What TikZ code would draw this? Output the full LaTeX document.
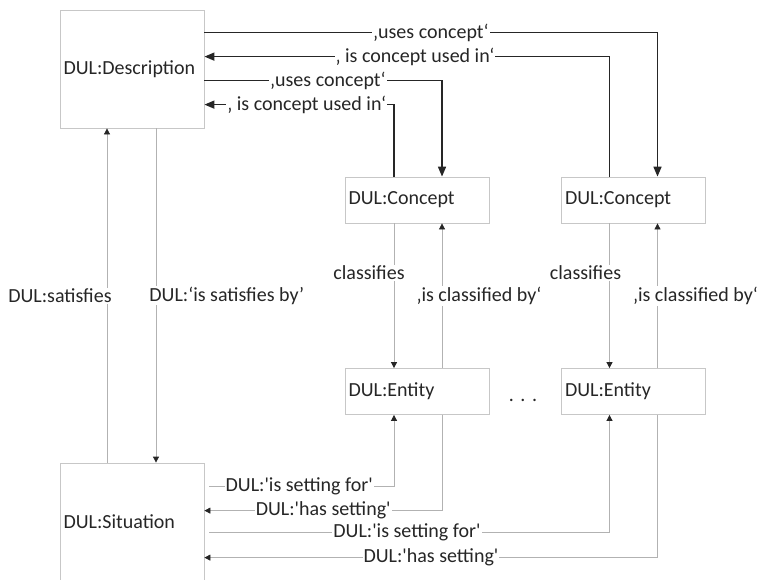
\documentclass[tikz,border=0pt]{standalone}
\usepackage{fontspec}
\setmainfont{Carlito}
\usetikzlibrary{arrows.meta}
\newcommand{\sq}{\textquotesingle}

\begin{document}
\begin{tikzpicture}[x=1pt, y=-1pt, font=\fontsize{20}{24}\selectfont, text=black!85,
	box/.style={draw=black!22, line width=0.8pt, text width=137pt, inner sep=3.5pt, align=left, minimum height=#1},
	box/.default=46pt,
	uses/.style={line width=1.6pt, black!85, -{Triangle[length=10pt,width=8pt]}},
	rel/.style={line width=0.8pt, black!30, -{Triangle[length=6pt,width=6pt,color=black!85]}},
	lbl/.style={fill=white, inner sep=1pt, text=black!85}]
	\useasboundingbox (0,0) rectangle (759,579);
	\clip (0,0) rectangle (759,579);
	\node (D) [box=118pt] at (132,69) {DUL:Description};
	\node (S) [box=118pt] at (132,522) {DUL:Situation};
	\node (C1) [box] at (417,200) {DUL:Concept};
	\node (C2) [box] at (633.5,200) {DUL:Concept};
	\node (E1) [box] at (417,391.5) {DUL:Entity};
	\node (E2) [box] at (633.5,391.5) {DUL:Entity};
	\node (dots) at (523,400) {.\,\,.\,\,.};
	\draw[uses] ([yshift=-23pt]D.north east) -| node[lbl, pos=.25] {‚uses concept‘} ([xshift=24pt]C2.north);
	\draw[uses] ([xshift=-24pt]C2.north) |- node[lbl, pos=.74] {‚ is concept used in‘} ([yshift=-47pt]D.north east);
	\draw[uses] ([yshift=-71pt]D.north east) -| node[lbl, pos=.26] {‚uses concept‘} ([xshift=25pt]C1.north);
	\draw[uses] ([xshift=-23pt]C1.north) |- node[lbl, pos=.73] {‚ is concept used in‘} ([yshift=-95pt]D.north east);
	\draw[rel] ([xshift=-25pt]S.north) -- node[lbl, anchor=east, xshift=6pt] {DUL:satisfies} ([xshift=-25pt]D.south);
	\draw[rel] ([xshift=24pt]D.south) -- node[lbl, anchor=west, xshift=-8pt] {DUL:‘is satisfies by’} ([xshift=24pt]S.north);
	\draw[rel] ([xshift=-23pt]C1.south) -- node[lbl, pos=.34, xshift=-25pt] {classifies} ([xshift=-23pt]E1.north);
	\draw[rel] ([xshift=25pt]E1.north) -- node[lbl, xshift=37pt] {‚is classified by‘} ([xshift=25pt]C1.south);
	\draw[rel] ([xshift=-24pt]C2.south) -- node[lbl, pos=.34, xshift=-24pt] {classifies} ([xshift=-24pt]E2.north);
	\draw[rel] ([xshift=24pt]E2.north) -- node[lbl, xshift=38pt] {‚is classified by‘} ([xshift=24pt]C2.south);
	\draw[rel, shorten <=5pt] ([yshift=-24pt]S.north east) -| node[lbl, pos=.25] {DUL:\sq is setting for\sq} ([xshift=-23pt]E1.south);
	\draw[rel] ([xshift=25pt]E1.south) |- node[lbl, pos=.75] {DUL:\sq has setting\sq} ([yshift=-48pt]S.north east);
	\draw[rel, shorten <=5pt] ([yshift=-70pt]S.north east) -| node[lbl, pos=.25] {DUL:\sq is setting for\sq} ([xshift=-24pt]E2.south);
	\draw[rel] ([xshift=24pt]E2.south) |- node[lbl, pos=.75] {DUL:\sq has setting\sq} ([yshift=-95pt]S.north east);
\end{tikzpicture}
\end{document}
